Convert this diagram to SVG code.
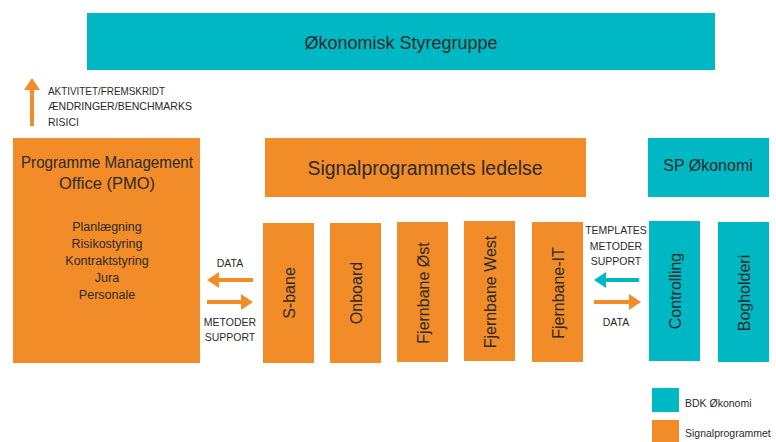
<svg xmlns="http://www.w3.org/2000/svg" width="776" height="442" viewBox="0 0 776 442">
<style>
.o{fill:#F28C28}
.t{fill:#00B8C4}
text{font-family:"Liberation Sans","DejaVu Sans",sans-serif;fill:#2b2b2b}
.big{font-size:18px}
.mid{font-size:16px}
.sm{font-size:12.5px}
.lab{font-size:10.5px}
.c{text-anchor:middle}
</style>
<defs>
<marker id="ao" markerUnits="userSpaceOnUse" markerWidth="12" markerHeight="16" refX="0" refY="8" orient="auto" viewBox="0 0 12 16"><path d="M0,0 L12,8 L0,16 z" fill="#F28C28"/></marker>
<marker id="at" markerUnits="userSpaceOnUse" markerWidth="12" markerHeight="16" refX="0" refY="8" orient="auto" viewBox="0 0 12 16"><path d="M0,0 L12,8 L0,16 z" fill="#00B8C4"/></marker>
</defs>
<rect width="776" height="442" fill="#fff"/>
<g id="styregruppe"><rect class="t" x="87" y="13" width="628" height="57"/><text class="big c" x="401" y="49">Økonomisk Styregruppe</text></g>
<g id="pmo"><rect class="o" x="13" y="138" width="187" height="225"/>
<text class="c" x="107" y="168" font-size="16.5" textLength="172" lengthAdjust="spacingAndGlyphs">Programme Management</text>
<text class="c" x="107" y="189" font-size="16.5">Office (PMO)</text>
<text class="sm c" x="107" y="231">Planlægning</text>
<text class="sm c" x="107" y="248">Risikostyring</text>
<text class="sm c" x="107" y="265">Kontraktstyring</text>
<text class="sm c" x="107" y="282">Jura</text>
<text class="sm c" x="107" y="299">Personale</text></g>
<g id="ledelse"><rect class="o" x="265" y="138" width="321" height="59"/><text class="c" x="425" y="175" font-size="19.5" textLength="235" lengthAdjust="spacingAndGlyphs">Signalprogrammets ledelse</text></g>
<g id="spokonomi"><rect class="t" x="648" y="138" width="121" height="59"/><text class="mid c" x="708" y="171">SP Økonomi</text></g>
<g id="sbane"><rect class="o" x="263" y="223" width="51" height="140"/><text class="mid c" transform="translate(289,293) rotate(-90)" dy="6">S-bane</text></g>
<g id="onboard"><rect class="o" x="330" y="223" width="51" height="140"/><text class="mid c" transform="translate(356,293) rotate(-90)" dy="6">Onboard</text></g>
<g id="fjost"><rect class="o" x="397" y="222" width="51" height="140"/><text class="mid c" transform="translate(423,293) rotate(-90)" dy="6">Fjernbane Øst</text></g>
<g id="fjwest"><rect class="o" x="464" y="221" width="51" height="140"/><text class="mid c" transform="translate(490,292) rotate(-90)" dy="6">Fjernbane West</text></g>
<g id="fjit"><rect class="o" x="532" y="222" width="51" height="140"/><text class="mid c" transform="translate(558,293) rotate(-90)" dy="6">Fjernbane-IT</text></g>
<g id="controlling"><rect class="t" x="649" y="221" width="51" height="140"/><text class="mid c" transform="translate(675,291) rotate(-90)" dy="6">Controlling</text></g>
<g id="bogholderi"><rect class="t" x="718" y="222" width="51" height="140"/><text class="mid c" transform="translate(744,293) rotate(-90)" dy="6">Bogholderi</text></g>
<g id="connectors" stroke-width="4" fill="none">
<line x1="32" y1="126" x2="32" y2="90" stroke="#F28C28" marker-end="url(#ao)"/>
<line x1="253" y1="280" x2="219" y2="280" stroke="#F28C28" marker-end="url(#ao)"/>
<line x1="207" y1="302" x2="241" y2="302" stroke="#F28C28" marker-end="url(#ao)"/>
<line x1="639" y1="280" x2="606" y2="280" stroke="#00B8C4" marker-end="url(#at)"/>
<line x1="594" y1="302" x2="629" y2="302" stroke="#F28C28" marker-end="url(#ao)"/>
</g>
<g id="labels">
<text class="lab" x="48" y="95" textLength="117" lengthAdjust="spacingAndGlyphs">AKTIVITET/FREMSKRIDT</text>
<text class="lab" x="48" y="110" textLength="144" lengthAdjust="spacingAndGlyphs">ÆNDRINGER/BENCHMARKS</text>
<text class="lab" x="48" y="126">RISICI</text>
<text class="lab c" x="230" y="267">DATA</text>
<text class="lab c" x="230" y="326">METODER</text>
<text class="lab c" x="230" y="341">SUPPORT</text>
<text class="lab c" x="616" y="234">TEMPLATES</text>
<text class="lab c" x="616" y="250">METODER</text>
<text class="lab c" x="616" y="265">SUPPORT</text>
<text class="lab c" x="616" y="326">DATA</text>
</g>
<g id="legend">
<rect class="t" x="652" y="388" width="27" height="24"/>
<text class="lab" x="685" y="407">BDK Økonomi</text>
<rect class="o" x="652" y="420" width="27" height="24"/>
<text class="lab" x="685" y="437">Signalprogrammet</text>
</g>
</svg>
